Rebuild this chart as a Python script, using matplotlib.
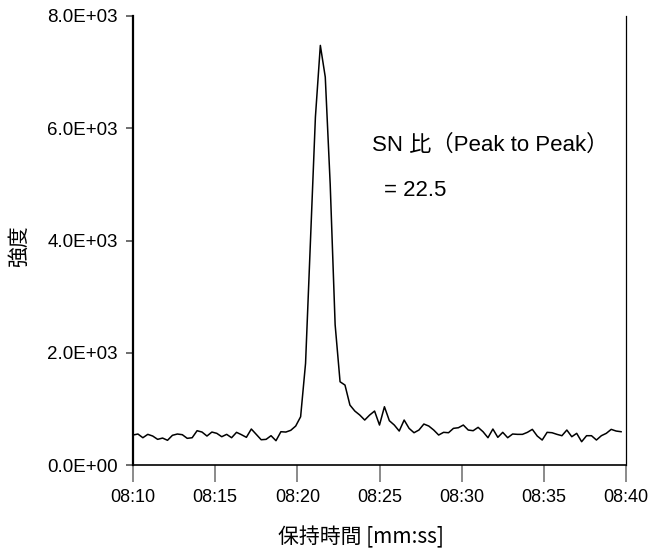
import numpy as np
import matplotlib
matplotlib.use("Agg")
import matplotlib.pyplot as plt

# ---- data ----
start_seconds = 8 * 60 + 10      # 08:10
sample_step = 0.3                # seconds between samples
intensity = [
    534, 552, 486, 546, 516, 457, 480, 440, 529, 552,
    540, 475, 486, 611, 587, 516, 587, 564, 504, 546,
    486, 582, 540, 493, 641, 546, 450, 457, 522, 433,
    593, 587, 618, 694, 860, 1810, 4000, 6200, 7476, 6912,
    5000, 2500, 1483, 1424, 1068, 961, 890, 801, 890, 961,
    712, 1038, 789, 712, 605, 801, 653, 575, 623, 730,
    694, 623, 534, 582, 575, 653, 664, 712, 623, 611,
    671, 593, 486, 641, 493, 582, 486, 552, 546, 546,
    582, 635, 516, 445, 582, 575, 546, 522, 623, 504,
    564, 415, 522, 522, 445, 522, 564, 635, 605, 593,
]
xtick_seconds = [490, 495, 500, 505, 510, 515, 520]
xtick_labels = ["08:10", "08:15", "08:20", "08:25", "08:30", "08:35", "08:40"]
ytick_values = [0, 2000, 4000, 6000, 8000]
ytick_labels = ["0.0E+00", "2.0E+03", "4.0E+03", "6.0E+03", "8.0E+03"]
annot_line1 = "SN 比（Peak to Peak）"
annot_line2 = "= 22.5"
xlabel = "保持時間 [mm:ss]"
ylabel = "強度"

times = start_seconds + sample_step * np.arange(len(intensity))

W, H = 659, 551
fig = plt.figure(figsize=(W / 100, H / 100), dpi=100)
ax = fig.add_axes([133 / W, 1 - 465 / H, (626 - 133) / W, (465 - 16) / H])

ax.plot(times, intensity, color="black", lw=1.1)
ax.set_xlim(490, 520)
ax.set_ylim(0, 8000)

latin = ["Liberation Sans", "Noto Sans CJK JP"]
ax.set_xticks(xtick_seconds)
ax.set_xticklabels(xtick_labels, fontfamily=latin, fontsize=13)
ax.set_yticks(ytick_values)
ax.set_yticklabels(ytick_labels, fontfamily=latin, fontsize=13.5)

ax.tick_params(axis="x", direction="out", length=12, width=1.2, color="#777777", pad=5.5)
ax.tick_params(axis="y", direction="out", length=5, width=1.2, color="#555555", pad=6)

ax.spines["left"].set_linewidth(1.6)
ax.spines["bottom"].set_linewidth(1.2)
ax.spines["right"].set_linewidth(0.9)
ax.spines["top"].set_visible(False)

fig.text(372 / W, 1 - 145 / H, annot_line1, fontfamily=latin, fontsize=16,
         ha="left", va="center")
fig.text(384 / W, 1 - 190 / H, annot_line2, fontfamily=latin, fontsize=16,
         ha="left", va="center")

fig.text(361 / W, 1 - 537 / H, xlabel, fontfamily=["Noto Sans CJK JP"], fontsize=15,
         ha="center", va="center")
fig.text(19 / W, 1 - 246 / H, ylabel, fontfamily=["Noto Sans CJK JP"], fontsize=15,
         ha="center", va="center", rotation=90)

fig.savefig("out.png", dpi=100)
